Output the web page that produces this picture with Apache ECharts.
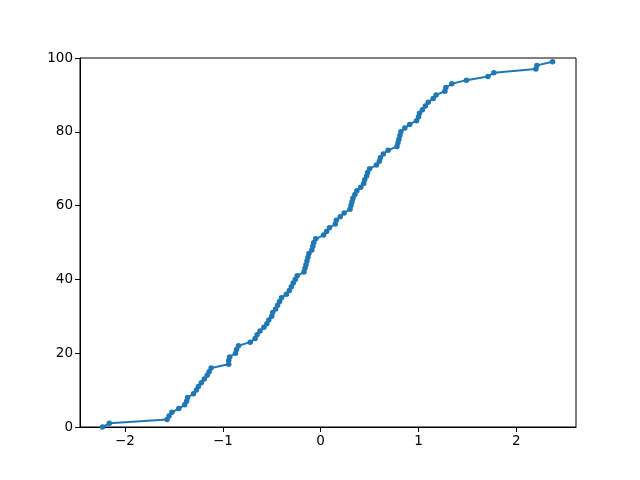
<!DOCTYPE html>
<html>
<head>
<meta charset="utf-8">
<script src="https://cdn.jsdelivr.net/npm/echarts@6/dist/echarts.min.js"></script>
<style>
  html, body { margin: 0; padding: 0; background: #fff; }
  #main { width: 640px; height: 480px; }
</style>
</head>
<body>
<div id="main"></div>
<script>
// sorted sample values, one per rank 0..99
const sampleX = [
  -2.23, -2.16, -1.57, -1.55, -1.52, -1.45, -1.39, -1.37, -1.36, -1.30,
  -1.27, -1.25, -1.22, -1.19, -1.16, -1.14, -1.12, -0.94, -0.94, -0.93,
  -0.87, -0.86, -0.84, -0.72, -0.67, -0.65, -0.62, -0.58, -0.55, -0.53,
  -0.50, -0.49, -0.46, -0.44, -0.42, -0.40, -0.35, -0.32, -0.30, -0.28,
  -0.26, -0.24, -0.17, -0.16, -0.15, -0.14, -0.13, -0.12, -0.09, -0.08,
  -0.07, -0.05, 0.03, 0.06, 0.09, 0.15, 0.16, 0.20, 0.24, 0.30,
  0.31, 0.32, 0.33, 0.35, 0.37, 0.41, 0.44, 0.45, 0.47, 0.48,
  0.50, 0.57, 0.60, 0.61, 0.64, 0.69, 0.78, 0.79, 0.80, 0.81,
  0.82, 0.86, 0.91, 0.98, 1.00, 1.01, 1.04, 1.07, 1.10, 1.15,
  1.18, 1.27, 1.28, 1.34, 1.49, 1.71, 1.77, 2.20, 2.21, 2.37
];
const rankY = sampleX.map((v, i) => i);
const xTicks = [-2, -1, 0, 1, 2];
const yTicks = [0, 20, 40, 60, 80, 100];

const fmt = v => (v < 0 ? '\u2212' + Math.abs(v) : String(v));
const font = { fontFamily: 'DejaVu Sans', fontSize: 13.5, color: '#000' };

const chart = echarts.init(document.getElementById('main'));
chart.setOption({
  animation: false,
  grid: {
    left: 80, right: 64, top: 58, bottom: 53,
    show: true, borderColor: '#000', borderWidth: 1
  },
  xAxis: {
    type: 'value',
    min: -2.46, max: 2.61,
    splitLine: { show: false },
    axisLine: { onZero: false, lineStyle: { color: '#000', width: 1 } },
    axisTick: { show: true, length: 5, customValues: xTicks, lineStyle: { color: '#000' } },
    axisLabel: Object.assign({ customValues: xTicks, formatter: fmt, margin: 7 }, font)
  },
  yAxis: {
    type: 'value',
    min: 0, max: 100, interval: 20,
    splitLine: { show: false },
    axisLine: { show: true, onZero: false, lineStyle: { color: '#000', width: 1 } },
    axisTick: { show: true, length: 5, customValues: yTicks, lineStyle: { color: '#000' } },
    axisLabel: Object.assign({ customValues: yTicks, formatter: fmt, margin: 7 }, font)
  },
  series: [{
    type: 'line',
    data: sampleX.map((x, i) => [x, rankY[i]]),
    symbol: 'circle',
    symbolSize: 5.5,
    showAllSymbol: true,
    lineStyle: { color: '#1f77b4', width: 2 },
    itemStyle: { color: '#1f77b4' },
    clip: false
  }]
});
</script>
</body>
</html>
